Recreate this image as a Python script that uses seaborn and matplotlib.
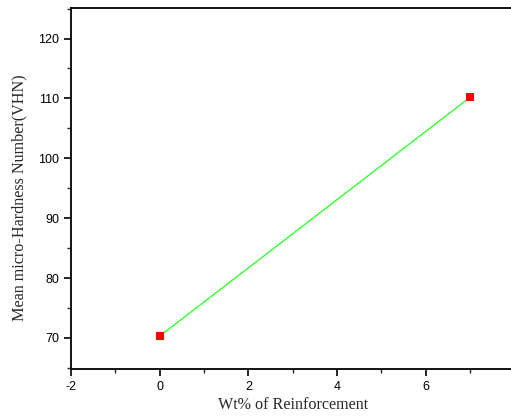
import numpy as np
import pandas as pd
import matplotlib
matplotlib.use("Agg")
import matplotlib.pyplot as plt
from matplotlib.ticker import MultipleLocator
import seaborn as sns

# ================= DATA =================
wt_pct = [0, 7]
hardness = [70.3, 110.2]

df = pd.DataFrame({"wt": wt_pct, "vhn": hardness})

# ================= STYLE =================
sns.set_style("ticks")
plt.rcParams["font.family"] = ["Liberation Sans", "DejaVu Sans"]
plt.rcParams["axes.unicode_minus"] = False

fig = plt.figure(figsize=(5.11, 4.2), dpi=100)
ax = fig.add_axes([71 / 511, 1 - 369 / 420, 1 - 71 / 511, (369 - 8) / 420])

sns.lineplot(data=df, x="wt", y="vhn", ax=ax, color="#33ff33", linewidth=1.0)
sns.scatterplot(data=df, x="wt", y="vhn", ax=ax, marker="s", color="#ff0000",
                s=40, edgecolor="#ff0000", linewidth=0, zorder=3)

ax.set_xlim(-2, 7.92)
ax.set_ylim(64.8, 125.1)
ax.xaxis.set_major_locator(MultipleLocator(2))
ax.xaxis.set_minor_locator(MultipleLocator(1))
ax.yaxis.set_major_locator(MultipleLocator(10))
ax.yaxis.set_minor_locator(MultipleLocator(5))
ax.tick_params(which="major", direction="out", length=5, width=1.2, labelsize=9, colors="black")
ax.tick_params(which="minor", direction="out", length=3, width=1.0)

for side in ["left", "bottom", "top"]:
    ax.spines[side].set_visible(True)
    ax.spines[side].set_linewidth(1.3)
    ax.spines[side].set_color("black")
ax.spines["right"].set_visible(False)

ax.set_xlabel("Wt% of Reinforcement", fontsize=11.6, family=["Liberation Serif", "DejaVu Serif"])
ax.set_ylabel("Mean micro-Hardness Number(VHN)", fontsize=11.6, family=["Liberation Serif", "DejaVu Serif"])
ax.xaxis.set_label_coords(0.5045, -0.0776)
ax.yaxis.set_label_coords(-0.1, 0.474)

fig.savefig("out.png", dpi=100)
